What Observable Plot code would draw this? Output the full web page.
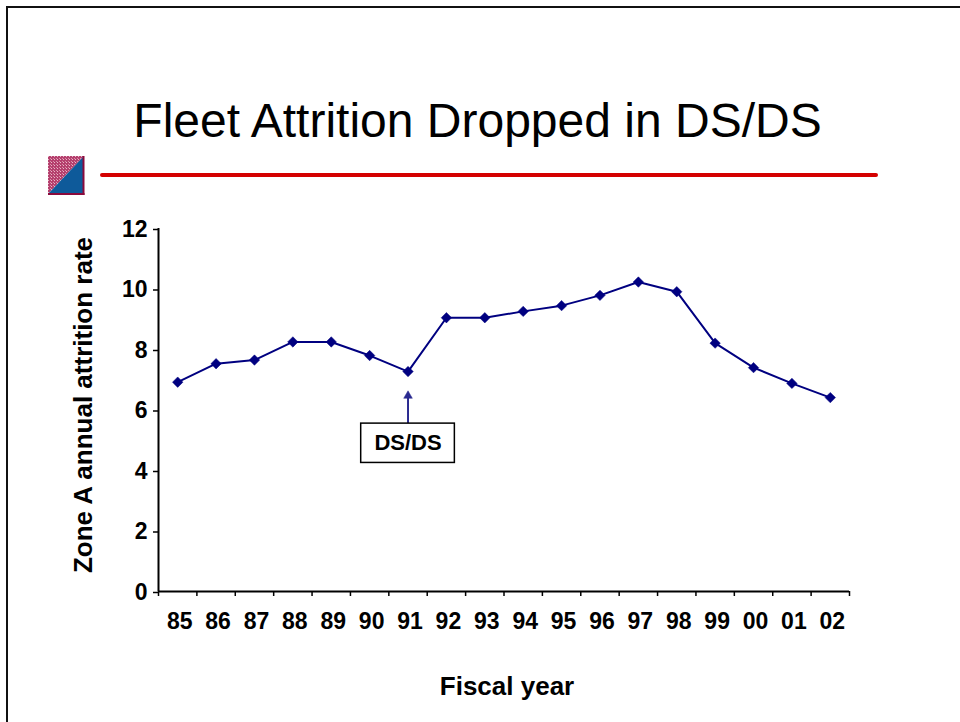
<!DOCTYPE html>
<html>
<head>
<meta charset="utf-8">
<script src="https://cdn.jsdelivr.net/npm/d3@7"></script>
<script src="https://cdn.jsdelivr.net/npm/@observablehq/plot@0.6"></script>
<style>
  html, body { margin: 0; padding: 0; background: #fff; }
  #slide { position: relative; width: 960px; height: 722px; overflow: hidden; font-family: "Liberation Sans", Arial, sans-serif; }
  #frame { position: absolute; left: 6px; top: 6px; right: -10px; bottom: -10px; border-top: 2px solid #111; border-left: 2px solid #111; }
  #title { position: absolute; left: 0; width: 955px; top: 97px; line-height: 48px; font-size: 48px; text-align: center; color: #000; white-space: nowrap; }
  #rule { position: absolute; left: 100px; top: 173px; width: 778px; height: 4px; background: #d40000; border-radius: 2px; }
  #icon { position: absolute; left: 48px; top: 156px; }
  #chart { position: absolute; left: 0; top: 0; }
  #chart text.tick { letter-spacing: 1px; }
  #chart text.ytitle { letter-spacing: 1.2px; }
  #chart text.xtitle { letter-spacing: 1.5px; }
</style>
</head>
<body>
<div id="slide">
  <div id="frame"></div>
  <div id="title">Fleet Attrition Dropped in DS/DS</div>
  <svg id="icon" width="38" height="40" viewBox="0 0 38 40">
    <defs>
      <pattern id="dither" width="3" height="3" patternUnits="userSpaceOnUse">
        <rect width="3" height="3" fill="#b5406e"/>
        <rect width="1" height="1" fill="#e8b8c8"/>
        <rect x="2" y="2" width="1" height="1" fill="#d890a8"/>
      </pattern>
    </defs>
    <polygon points="0,0 36,0 0,38" fill="url(#dither)"/>
    <polygon points="36,0 36,38 0,38" fill="#0e5a9a"/>
    <rect x="34.5" y="0" width="2" height="39" fill="#8a0a3c"/>
    <rect x="0" y="37" width="36.5" height="2" fill="#8a0a3c"/>
  </svg>
  <div id="rule"></div>
  <div id="chart"></div>
</div>
<script>
// ---- data ----
const years = ["85","86","87","88","89","90","91","92","93","94","95","96","97","98","99","00","01","02"];
const rates = [6.92, 7.53, 7.65, 8.25, 8.25, 7.80, 7.27, 9.05, 9.05, 9.26, 9.45, 9.79, 10.23, 9.91, 8.21, 7.40, 6.88, 6.41];
const yTicks = [0, 2, 4, 6, 8, 10, 12];
const yLabel = "Zone A annual attrition rate";
const xLabel = "Fiscal year";
const annotationYear = "91";
const annotationText = "DS/DS";
const annotationBox = [4.25, 5.55];   // value range covered by the label box
const annotationTip = 6.47;           // value where the arrow head sits

const data = years.map((year, i) => ({year, pos: i + 0.5, rate: rates[i]}));
const annPos = years.indexOf(annotationYear) + 0.5;
const boundaries = d3.range(years.length + 1);

const font = "'Liberation Sans', Arial, sans-serif";
const navy = "#000080";

const chart = Plot.plot({
  width: 960,
  height: 722,
  marginTop: 228,
  marginBottom: 131,
  marginLeft: 158,
  marginRight: 111,
  style: {fontFamily: font, background: "transparent", overflow: "visible"},
  x: {type: "linear", domain: [0, years.length], axis: null},
  y: {domain: [0, 12], axis: null},
  marks: [
    // axes
    Plot.axisY({ticks: yTicks, tickSize: 5, tickPadding: 6, strokeWidth: 1.5, fontSize: 23, fontWeight: "bold", fill: "#000", label: null, dy: 1, className: "tick"}),
    Plot.axisX({ticks: boundaries, tickSize: 5, strokeWidth: 1.5, tickFormat: () => "", label: null}),
    Plot.axisX({ticks: data.map(d => d.pos), tickSize: 0, tickPadding: 21, tickFormat: p => years[Math.round(p - 0.5)], fontSize: 23, fontWeight: "bold", fill: "#000", label: null, dx: 2, className: "tick"}),
    Plot.ruleX([0], {stroke: "#000", strokeWidth: 2}),
    Plot.ruleY([0], {stroke: "#000", strokeWidth: 2}),
    // axis titles
    Plot.text([yLabel], {frameAnchor: "left", textAnchor: "middle", lineAnchor: "middle", dx: -75, dy: -5, rotate: -90, fontSize: 26, fontWeight: "bold", fill: "#000", className: "ytitle"}),
    Plot.text([xLabel], {frameAnchor: "bottom", textAnchor: "middle", lineAnchor: "middle", dx: 3, dy: 95, fontSize: 26, fontWeight: "bold", fill: "#000", className: "xtitle"}),
    // series
    Plot.line(data, {x: "pos", y: "rate", stroke: navy, strokeWidth: 2}),
    Plot.dot(data, {x: "pos", y: "rate", symbol: "diamond2", r: 4.7, fill: navy, stroke: navy, strokeWidth: 0.5}),
    // annotation
    Plot.ruleX([annPos], {y1: annotationBox[1], y2: annotationTip, stroke: "#2a2a90", strokeWidth: 2}),
    Plot.dot([annPos], {x: d => d, y: () => annotationTip, symbol: "triangle", r: 3.2, fill: "#2a2a90", stroke: "#2a2a90", strokeWidth: 0.5}),
    Plot.rect([annPos], {x1: d => d - 1.22, x2: d => d + 1.22, y1: annotationBox[0], y2: annotationBox[1], fill: "#fff", stroke: "#000", strokeWidth: 1.5}),
    Plot.text([annotationText], {x: annPos, y: (annotationBox[0] + annotationBox[1]) / 2, fontSize: 22, fontWeight: "bold", fill: "#000"})
  ]
});
document.getElementById("chart").appendChild(chart);
</script>
</body>
</html>
